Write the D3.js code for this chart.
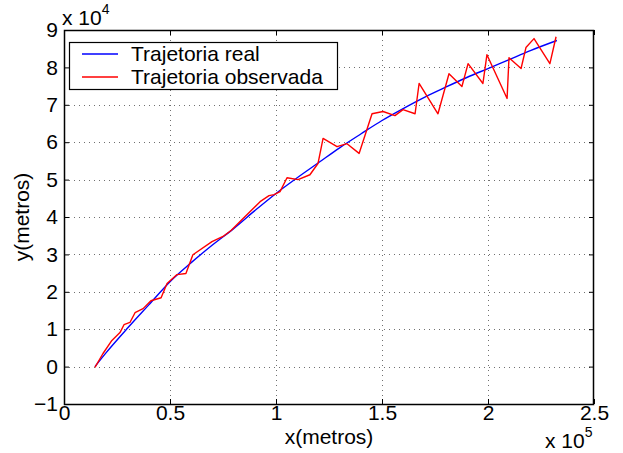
<!DOCTYPE html>
<html>
<head>
<meta charset="utf-8">
<script src="https://cdn.jsdelivr.net/npm/d3@7"></script>
<style>
  html, body { margin: 0; padding: 0; background: #fff; }
  svg { display: block; font-family: "Liberation Sans", Arial, Helvetica, sans-serif; }
</style>
</head>
<body>
<svg id="chart" width="623" height="453"></svg>
<script>
// x in units of 1e5 m, y in units of 1e4 m
const realX = [0.146, 0.2, 0.3, 0.4, 0.5, 0.6, 0.7, 0.8, 0.9, 1.0, 1.1, 1.2, 1.3, 1.4, 1.5, 1.6, 1.7, 1.8, 1.9, 2.0, 2.1, 2.2, 2.325];
const realY = [0.0, 0.38, 1.03, 1.65, 2.27, 2.78, 3.25, 3.69, 4.17, 4.63, 5.05, 5.45, 5.85, 6.22, 6.58, 6.90, 7.20, 7.47, 7.73, 7.97, 8.21, 8.45, 8.72];

const obsX = [0.146, 0.184, 0.226, 0.264, 0.283, 0.311, 0.335, 0.373, 0.410, 0.458, 0.486, 0.533, 0.575, 0.608, 0.698, 0.750, 0.788, 0.840, 0.925, 0.967, 0.991, 1.019, 1.052, 1.104, 1.160, 1.198, 1.222, 1.288, 1.335, 1.392, 1.453, 1.505, 1.561, 1.599, 1.656, 1.675, 1.764, 1.816, 1.877, 1.906, 1.976, 1.995, 2.090, 2.099, 2.156, 2.179, 2.217, 2.292, 2.321];
const obsY = [-0.02, 0.35, 0.70, 0.91, 1.12, 1.18, 1.44, 1.55, 1.76, 1.84, 2.22, 2.46, 2.49, 2.99, 3.34, 3.48, 3.64, 3.93, 4.41, 4.57, 4.60, 4.68, 5.05, 5.00, 5.13, 5.43, 6.10, 5.88, 5.96, 5.70, 6.76, 6.82, 6.71, 6.87, 6.76, 7.57, 6.76, 7.83, 7.49, 8.10, 7.57, 8.34, 7.17, 8.26, 7.97, 8.53, 8.77, 8.10, 8.82];

const xTicks = [0, 0.5, 1, 1.5, 2, 2.5];
const yTicks = [-1, 0, 1, 2, 3, 4, 5, 6, 7, 8, 9];
const xTickLabels = ["0", "0.5", "1", "1.5", "2", "2.5"];

const seriesNames = ["Trajetoria real", "Trajetoria observada"];
const seriesColors = ["#0000ff", "#ff0000"];

const svg = d3.select("#chart");
const L = 64, R = 594, T = 30, B = 404;
const x = d3.scaleLinear().domain([0, 2.5]).range([L, R]);
const y = d3.scaleLinear().domain([-1, 9]).range([B, T]);
const FS = 21;

// background
svg.append("rect").attr("x", 0).attr("y", 0).attr("width", 623).attr("height", 453).attr("fill", "#fff");

// grid
const grid = svg.append("g").attr("stroke", "#707070").attr("stroke-width", 1).attr("stroke-dasharray", "1,4");
grid.selectAll("line.gx").data(xTicks.slice(1, -1)).join("line")
  .attr("x1", d => Math.round(x(d)) + 0.5).attr("x2", d => Math.round(x(d)) + 0.5)
  .attr("y1", T).attr("y2", B);
grid.selectAll("line.gy").data(yTicks.slice(1, -1)).join("line")
  .attr("y1", d => Math.round(y(d)) + 0.5).attr("y2", d => Math.round(y(d)) + 0.5)
  .attr("x1", L).attr("x2", R);

// series
const realPts = realX.map((v, i) => [v, realY[i]]);
const obsPts = obsX.map((v, i) => [v, obsY[i]]);
const line = d3.line().x(d => x(d[0])).y(d => y(d[1]));
svg.append("path").datum(realPts).attr("d", line.curve(d3.curveMonotoneX))
  .attr("fill", "none").attr("stroke", seriesColors[0]).attr("stroke-width", 1.4);
svg.append("path").datum(obsPts).attr("d", d3.line().x(d => x(d[0])).y(d => y(d[1])))
  .attr("fill", "none").attr("stroke", seriesColors[1]).attr("stroke-width", 1.4).attr("stroke-linejoin", "round");

// axes (ticks inward)
const ax = (g) => g.attr("font-family", null).attr("font-size", FS).call(s => s.select(".domain").remove());
svg.append("g").attr("transform", `translate(0,${B})`)
  .call(d3.axisBottom(x).tickValues(xTicks).tickFormat((d, i) => xTickLabels[i]).tickSize(-5).tickPadding(1))
  .call(ax).selectAll("text").attr("fill", "#000");
svg.append("g").attr("transform", `translate(0,${T})`)
  .call(d3.axisTop(x).tickValues(xTicks).tickFormat("").tickSize(-5)).call(ax);
svg.append("g").attr("transform", `translate(${L},0)`)
  .call(d3.axisLeft(y).tickValues(yTicks).tickFormat(d3.format("d")).tickSize(-5).tickPadding(6))
  .call(ax).selectAll("text").attr("fill", "#000");
svg.append("g").attr("transform", `translate(${R},0)`)
  .call(d3.axisRight(y).tickValues(yTicks).tickFormat("").tickSize(-5)).call(ax);
svg.selectAll(".tick line").attr("stroke", "#000");

// box
svg.append("rect").attr("x", L + 0.5).attr("y", T + 0.5).attr("width", R - L - 1).attr("height", B - T)
  .attr("fill", "none").attr("stroke", "#000").attr("stroke-width", 1.5);

// legend
const leg = svg.append("g");
leg.append("rect").attr("x", 69.5).attr("y", 42.5).attr("width", 268).attr("height", 47)
  .attr("fill", "#fff").attr("stroke", "#000").attr("stroke-width", 1.2);
seriesNames.forEach((name, i) => {
  const yy = 54 + i * 23;
  leg.append("line").attr("x1", 82).attr("x2", 118).attr("y1", yy).attr("y2", yy)
    .attr("stroke", seriesColors[i]).attr("stroke-width", 1.4);
  leg.append("text").attr("x", 131).attr("y", yy + 7).attr("font-size", FS).attr("fill", "#000").text(name);
});

// axis labels
svg.append("text").attr("x", (L + R) / 2).attr("y", 444).attr("text-anchor", "middle")
  .attr("font-size", FS).text("x(metros)");
svg.append("text").attr("transform", "translate(29,217) rotate(-90)").attr("text-anchor", "middle")
  .attr("font-size", FS).text("y(metros)");

// exponent labels
const e1 = svg.append("text").attr("x", 62).attr("y", 25).attr("font-size", FS);
e1.append("tspan").text("x 10");
e1.append("tspan").attr("font-size", 14).attr("dy", -11).text("4");
const e2 = svg.append("text").attr("x", 545).attr("y", 448).attr("font-size", FS);
e2.append("tspan").text("x 10");
e2.append("tspan").attr("font-size", 14).attr("dy", -11).text("5");
</script>
</body>
</html>
